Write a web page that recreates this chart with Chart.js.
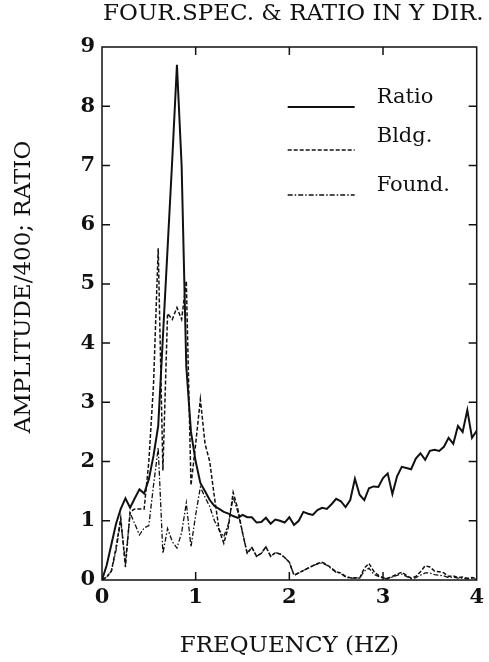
<!DOCTYPE html>
<html>
<head>
<meta charset="utf-8">
<script src="https://cdn.jsdelivr.net/npm/chart.js@4/dist/chart.umd.min.js"></script>
<style>
  html, body { margin: 0; padding: 0; background: #fff; }
  #wrap { width: 489px; height: 662px; }
</style>
</head>
<body>
<div id="wrap"><canvas id="myChart" width="489" height="662"></canvas></div>
<script>
// данные, шаг 0.05 Гц
const freq = [
  0.00, 0.05, 0.10, 0.15, 0.20, 0.25, 0.30, 0.35, 0.40, 0.45,
  0.50, 0.55, 0.60, 0.65, 0.70, 0.75, 0.80, 0.85, 0.90, 0.95,
  1.00, 1.05, 1.10, 1.15, 1.20, 1.25, 1.30, 1.35, 1.40, 1.45,
  1.50, 1.55, 1.60, 1.65, 1.70, 1.75, 1.80, 1.85, 1.90, 1.95,
  2.00, 2.05, 2.10, 2.15, 2.20, 2.25, 2.30, 2.35, 2.40, 2.45,
  2.50, 2.55, 2.60, 2.65, 2.70, 2.75, 2.80, 2.85, 2.90, 2.95,
  3.00, 3.05, 3.10, 3.15, 3.20, 3.25, 3.30, 3.35, 3.40, 3.45,
  3.50, 3.55, 3.60, 3.65, 3.70, 3.75, 3.80, 3.85, 3.90, 3.95,
  4.00
];

const ratio = [
  0.00, 0.25, 0.60, 0.95, 1.20, 1.38, 1.22, 1.38, 1.53, 1.46,
  1.70, 2.10, 2.60, 4.10, 5.60, 7.10, 8.70, 7.00, 3.60, 2.50,
  2.00, 1.64, 1.50, 1.35, 1.25, 1.20, 1.15, 1.12, 1.08, 1.05,
  1.10, 1.06, 1.06, 0.97, 0.98, 1.05, 0.95, 1.02, 1.00, 0.97,
  1.06, 0.93, 1.00, 1.15, 1.12, 1.10, 1.18, 1.22, 1.20, 1.28,
  1.37, 1.33, 1.23, 1.35, 1.71, 1.44, 1.35, 1.55, 1.58, 1.57,
  1.72, 1.80, 1.45, 1.75, 1.91, 1.89, 1.87, 2.05, 2.14, 2.03,
  2.18, 2.20, 2.18, 2.25, 2.40, 2.30, 2.60, 2.50, 2.87, 2.40,
  2.52
];

const bldg = [
  0.00, 0.05, 0.15, 0.55, 1.05, 0.22, 1.15, 1.20, 1.20, 1.20,
  2.00, 3.30, 5.60, 1.85, 4.50, 4.40, 4.60, 4.40, 5.05, 1.60,
  2.30, 3.05, 2.30, 2.00, 1.40, 0.85, 0.62, 0.90, 1.48, 1.20,
  0.80, 0.45, 0.55, 0.40, 0.45, 0.56, 0.40, 0.46, 0.44, 0.38,
  0.30, 0.08, 0.12, 0.16, 0.20, 0.24, 0.28, 0.30, 0.26, 0.20,
  0.14, 0.12, 0.06, 0.04, 0.04, 0.03, 0.20, 0.28, 0.15, 0.08,
  0.04, 0.03, 0.06, 0.10, 0.13, 0.08, 0.03, 0.06, 0.14, 0.24,
  0.22, 0.15, 0.14, 0.12, 0.06, 0.07, 0.04, 0.05, 0.03, 0.04,
  0.02
];

const found = [
  0.00, 0.05, 0.15, 0.50, 1.00, 0.30, 1.13, 0.95, 0.76, 0.88,
  0.92, 1.60, 2.23, 0.45, 0.87, 0.65, 0.54, 0.80, 1.30, 0.56,
  1.10, 1.57, 1.40, 1.24, 1.00, 0.85, 0.73, 0.95, 1.40, 1.15,
  0.80, 0.45, 0.55, 0.40, 0.45, 0.56, 0.40, 0.46, 0.44, 0.38,
  0.30, 0.08, 0.12, 0.16, 0.20, 0.24, 0.27, 0.29, 0.25, 0.19,
  0.13, 0.11, 0.05, 0.03, 0.03, 0.03, 0.15, 0.20, 0.10, 0.06,
  0.03, 0.02, 0.05, 0.08, 0.10, 0.06, 0.02, 0.04, 0.08, 0.12,
  0.12, 0.09, 0.08, 0.07, 0.04, 0.05, 0.03, 0.03, 0.02, 0.03,
  0.01
];

const xTicks = [0, 1, 2, 3, 4];
const yTicks = [0, 1, 2, 3, 4, 5, 6, 7, 8, 9];

const serif = '"DejaVu Serif", "Liberation Serif", serif';
const ink = '#111';
const titleText = 'FOUR.SPEC. & RATIO IN Y DIR.';
const yTitleText = 'AMPLITUDE/400; RATIO';

function points(values) {
  return values.map((v, i) => ({ x: freq[i], y: v }));
}

const series = [
  { label: 'Ratio', data: points(ratio), width: 2, dash: [] },
  { label: 'Bldg.', data: points(bldg), width: 1.5, dash: [4, 2] },
  { label: 'Found.', data: points(found), width: 1.3, dash: [5, 2, 1.5, 2] }
];

// рамка, внутренние засечки, заголовки и легенда
const framePlugin = {
  id: 'framePlugin',
  afterDatasetsDraw(chart) {
    const { ctx, chartArea: a, scales: { x, y } } = chart;
    const tl = 8;
    ctx.save();
    ctx.strokeStyle = ink;
    ctx.lineWidth = 1.5;
    ctx.setLineDash([]);
    ctx.strokeRect(a.left, a.top, a.right - a.left, a.bottom - a.top);
    ctx.beginPath();
    xTicks.slice(1, -1).forEach(v => {
      const px = x.getPixelForValue(v);
      ctx.moveTo(px, a.bottom); ctx.lineTo(px, a.bottom - tl);
      ctx.moveTo(px, a.top); ctx.lineTo(px, a.top + tl);
    });
    yTicks.slice(1, -1).forEach(v => {
      const py = y.getPixelForValue(v);
      ctx.moveTo(a.left, py); ctx.lineTo(a.left + tl, py);
      ctx.moveTo(a.right, py); ctx.lineTo(a.right - tl, py);
    });
    ctx.stroke();

    ctx.fillStyle = ink;
    ctx.textBaseline = 'middle';

    // заголовок
    ctx.font = '23px ' + serif;
    ctx.textAlign = 'center';
    ctx.fillText(titleText, (a.left + a.right) / 2 + 4, 14);

    // подпись оси Y
    ctx.save();
    ctx.translate(24, 287);
    ctx.rotate(-Math.PI / 2);
    ctx.font = '23px ' + serif;
    ctx.fillText(yTitleText, 0, 0);
    ctx.restore();

    // легенда
    ctx.textAlign = 'left';
    ctx.font = '21px ' + serif;
    const x0 = a.right - 189, x1 = a.right - 122, tx = a.right - 100;
    const rows = [
      { line: a.top + 60, text: a.top + 51 },
      { line: a.top + 103, text: a.top + 90 },
      { line: a.top + 148, text: a.top + 139 }
    ];
    series.forEach((s, i) => {
      ctx.beginPath();
      ctx.lineWidth = s.width;
      ctx.setLineDash(s.dash);
      ctx.moveTo(x0, rows[i].line);
      ctx.lineTo(x1, rows[i].line);
      ctx.stroke();
      ctx.fillText(s.label, tx, rows[i].text);
    });
    ctx.restore();
  }
};

const ctx = document.getElementById('myChart').getContext('2d');
const myChart = new Chart(ctx, {
  type: 'line',
  data: {
    datasets: series.map(s => ({
      label: s.label,
      data: s.data,
      borderColor: ink,
      borderWidth: s.width,
      borderDash: s.dash,
      pointRadius: 0,
      tension: 0,
      fill: false
    }))
  },
  options: {
    responsive: false,
    animation: false,
    layout: { padding: { left: 0, right: 7, top: 47, bottom: 0 } },
    plugins: {
      legend: { display: false },
      tooltip: { enabled: false },
      title: { display: false }
    },
    scales: {
      x: {
        type: 'linear',
        min: 0,
        max: 4,
        grid: { display: false, drawTicks: false },
        border: { display: false },
        afterBuildTicks: s => { s.ticks = xTicks.map(v => ({ value: v })); },
        ticks: {
          color: ink,
          padding: 5,
          font: { family: serif, size: 21, weight: 'bold' }
        },
        title: {
          display: true,
          text: 'FREQUENCY (HZ)',
          color: ink,
          font: { family: serif, size: 23, weight: 'normal' },
          padding: { top: 0, bottom: 2 }
        },
        afterFit: s => { s.height = 82; }
      },
      y: {
        min: 0,
        max: 9,
        grid: { display: false, drawTicks: false },
        border: { display: false },
        afterBuildTicks: s => { s.ticks = yTicks.map(v => ({ value: v })); },
        ticks: {
          color: ink,
          padding: 7,
          font: { family: serif, size: 21, weight: 'bold' }
        },
        afterFit: s => { s.width = 102; }
      }
    }
  },
  plugins: [framePlugin]
});
</script>
</body>
</html>
